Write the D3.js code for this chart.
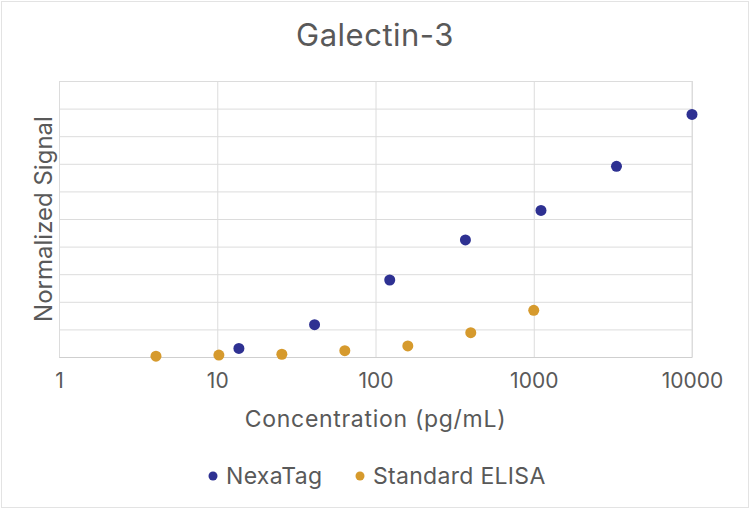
<!DOCTYPE html>
<html>
<head>
<meta charset="utf-8">
<script src="https://cdn.jsdelivr.net/npm/d3@7"></script>
<style>
  body { margin: 0; background: #fff; }
  text { font-family: "Inter", "Lato", sans-serif; fill: #595959; }
</style>
</head>
<body>
<div id="chart"></div>
<script>
// data
const nexaConc = [13.7, 41.2, 123, 370, 1111, 3333, 10000];
const nexaSignal = [0.31, 1.17, 2.79, 4.24, 5.31, 6.91, 8.79];
const elisaConc = [4.1, 10.24, 25.6, 64, 160, 400, 1000];
const elisaSignal = [0.03, 0.07, 0.1, 0.23, 0.4, 0.88, 1.69];
const xTicks = [1, 10, 100, 1000, 10000];
const yTicks = [0, 1, 2, 3, 4, 5, 6, 7, 8, 9, 10];
const seriesNames = ["NexaTag", "Standard ELISA"];
const seriesColors = ["#2e3192", "#d69a2d"];

const width = 750, height = 509;
const margin = { top: 81, right: 58, bottom: 152, left: 59 };
const w = width - margin.left - margin.right;
const h = height - margin.top - margin.bottom;

const svg = d3.select("#chart").append("svg")
    .attr("width", width)
    .attr("height", height);

// outer frame
svg.append("rect")
    .attr("x", 1.5).attr("y", 1.5)
    .attr("width", width - 3).attr("height", height - 3)
    .attr("fill", "none")
    .attr("stroke", "#e3e3e3");

const g = svg.append("g")
    .attr("transform", "translate(" + margin.left + "," + margin.top + ")");

const x = d3.scaleLog().domain([1, 10000]).range([0, w]);
const y = d3.scaleLinear().domain([0, 10]).range([h, 0]);

// horizontal grid
g.append("g")
    .call(d3.axisLeft(y).tickValues(yTicks).tickSize(-w).tickFormat(""))
    .call(a => a.select(".domain").remove())
    .call(a => a.selectAll("line").attr("stroke", "#dcdcdc"));

// vertical grid at decades
g.append("g")
    .attr("transform", "translate(0," + h + ")")
    .call(d3.axisBottom(x).tickValues(xTicks).tickSize(-h).tickFormat(""))
    .call(a => a.select(".domain").remove())
    .call(a => a.selectAll("line").attr("stroke", "#dcdcdc"));

// bottom axis line + labels
const xAxis = g.append("g")
    .attr("transform", "translate(0," + h + ")")
    .call(d3.axisBottom(x).tickValues(xTicks).tickSize(0).tickPadding(16)
        .tickFormat(d3.format("d")));
xAxis.select(".domain").attr("stroke", "#cfcfcf");
xAxis.selectAll("text")
    .style("font-size", "21px")
    .attr("fill", "#595959");

// right edge of plot
g.append("line")
    .attr("x1", w).attr("x2", w)
    .attr("y1", 0).attr("y2", h)
    .attr("stroke", "#dcdcdc");

// points
const series = [
    { name: seriesNames[0], color: seriesColors[0], xs: nexaConc, ys: nexaSignal },
    { name: seriesNames[1], color: seriesColors[1], xs: elisaConc, ys: elisaSignal }
];

series.slice().reverse().forEach(s => {
    g.append("g").selectAll("circle")
        .data(s.xs.map((c, i) => [c, s.ys[i]]))
        .enter()
        .append("circle")
        .attr("cx", d => x(d[0]))
        .attr("cy", d => y(d[1]))
        .attr("r", 5.5)
        .attr("fill", s.color);
});

// title
svg.append("text")
    .attr("x", width / 2).attr("y", 46)
    .attr("text-anchor", "middle")
    .style("font-size", "31px")
    .style("letter-spacing", "0.5px")
    .text("Galectin-3");

// axis titles
svg.append("text")
    .attr("x", margin.left + w / 2).attr("y", 427)
    .attr("text-anchor", "middle")
    .style("font-size", "23px")
    .style("letter-spacing", "0.7px")
    .text("Concentration (pg/mL)");

svg.append("text")
    .attr("transform", "translate(52," + (margin.top + h / 2) + ") rotate(-90)")
    .attr("text-anchor", "middle")
    .style("font-size", "24px")
    .text("Normalized Signal");

// legend
const legend = svg.append("g").attr("transform", "translate(0,476)");
const legendX = [213, 360];
series.forEach((s, i) => {
    legend.append("circle")
        .attr("cx", legendX[i]).attr("cy", 0)
        .attr("r", 4.5)
        .attr("fill", s.color);
    legend.append("text")
        .attr("x", legendX[i] + 13).attr("y", 0)
        .attr("dy", "0.35em")
        .style("font-size", "23px")
        .style("letter-spacing", "0.3px")
        .text(s.name);
});
</script>
</body>
</html>
